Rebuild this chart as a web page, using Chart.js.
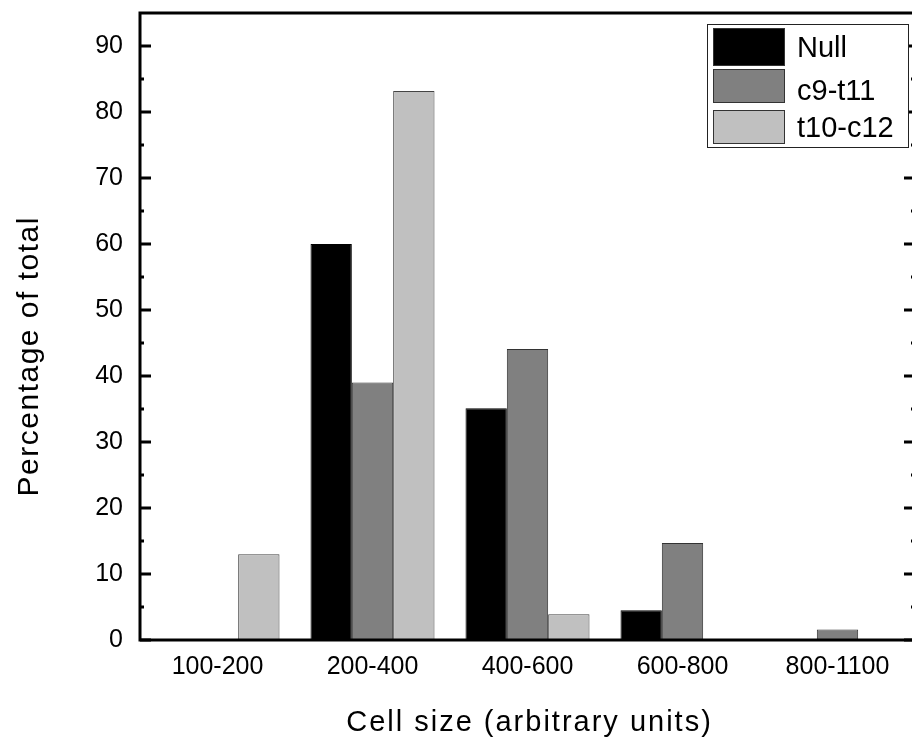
<!DOCTYPE html>
<html><head><meta charset="utf-8">
<script src="https://cdn.jsdelivr.net/npm/chart.js@4/dist/chart.umd.min.js"></script>
<style>
html,body{margin:0;padding:0;background:#fff;overflow:hidden}
#wrap{width:912px;height:740px;overflow:hidden;position:relative}
canvas{display:block}
</style>
</head><body>
<div id="wrap"><canvas id="c" width="920" height="740"></canvas></div>
<script>
const categories = ['100-200', '200-400', '400-600', '600-800', '800-1100'];
const seriesNames = ['Null', 'c9-t11', 't10-c12'];
const nullValues = [0, 60, 35.1, 4.5, 0];
const c9t11Values = [0, 39, 44.1, 14.7, 1.6];
const t10c12Values = [13, 83.2, 3.9, 0, 0];
const yMajorTicks = [0, 10, 20, 30, 40, 50, 60, 70, 80, 90];
const yMinorTicks = [5, 15, 25, 35, 45, 55, 65, 75, 85];
const xTitle = 'Cell size (arbitrary units)';
const yTitle = 'Percentage of total';

const FONT = '"Liberation Sans", Arial, Helvetica, sans-serif';
const seriesColors = ['#000000', '#808080', '#c0c0c0'];
const seriesBorders = ['#000000', '#333333', '#444444'];

function drawSpaced(ctx, text, spacing) {
  ctx.letterSpacing = spacing + 'px';
  const w = ctx.measureText(text).width - spacing;
  ctx.textAlign = 'left';
  ctx.fillText(text, -w / 2, 0);
  ctx.letterSpacing = '0px';
}

const framePlugin = {
  id: 'frame',
  afterDatasetsDraw(chart) {
    const { ctx, chartArea: a } = chart;
    const y = chart.scales.y;
    ctx.save();
    ctx.strokeStyle = '#000';
    ctx.lineWidth = 3;
    ctx.strokeRect(a.left, a.top, a.right - a.left, a.bottom - a.top);
    ctx.beginPath();
    yMajorTicks.forEach(v => {
      const p = y.getPixelForValue(v);
      ctx.moveTo(a.left, p); ctx.lineTo(a.left + 11, p);
      ctx.moveTo(a.right, p); ctx.lineTo(a.right - 11, p);
    });
    yMinorTicks.forEach(v => {
      const p = y.getPixelForValue(v);
      ctx.moveTo(a.left, p); ctx.lineTo(a.left + 4, p);
      ctx.moveTo(a.right, p); ctx.lineTo(a.right - 4, p);
    });
    ctx.stroke();
    ctx.restore();
  },
  afterDraw(chart) {
    const { ctx, chartArea: a } = chart;
    ctx.save();
    ctx.fillStyle = '#000';
    ctx.textBaseline = 'alphabetic';
    // x title
    ctx.font = '29px ' + FONT;
    ctx.save();
    ctx.translate((a.left + a.right) / 2 + 1, 731);
    drawSpaced(ctx, xTitle, 2);
    ctx.restore();
    // y title
    ctx.font = '30px ' + FONT;
    ctx.save();
    ctx.translate(38, 357);
    ctx.rotate(-Math.PI / 2);
    drawSpaced(ctx, yTitle, 1.5);
    ctx.restore();
    // legend
    const lx = a.right - 208, ly = a.top + 11;
    ctx.fillStyle = '#fff';
    ctx.fillRect(lx, ly, 202, 124);
    ctx.strokeStyle = '#222';
    ctx.lineWidth = 1;
    ctx.strokeRect(lx + 0.5, ly + 0.5, 201, 123);
    const rows = [{ t: 4, h: 38, b: 33 }, { t: 45, h: 34, b: 76 }, { t: 86, h: 34, b: 113 }];
    ctx.font = '29px ' + FONT;
    chart.data.datasets.forEach((ds, i) => {
      const r = rows[i];
      ctx.fillStyle = ds.backgroundColor;
      ctx.fillRect(lx + 6, ly + r.t, 72, r.h);
      ctx.strokeStyle = '#333';
      ctx.strokeRect(lx + 6.5, ly + r.t + 0.5, 71, r.h - 1);
      ctx.fillStyle = '#000';
      ctx.textAlign = 'left';
      ctx.fillText(ds.label, lx + 90, ly + r.b);
    });
    ctx.restore();
  }
};

const valueSets = [nullValues, c9t11Values, t10c12Values];

new Chart(document.getElementById('c'), {
  type: 'bar',
  data: {
    labels: categories,
    datasets: seriesNames.map((name, i) => ({
      label: name,
      data: valueSets[i],
      backgroundColor: seriesColors[i],
      borderColor: seriesBorders[i],
      borderWidth: 1,
      categoryPercentage: 0.8,
      barPercentage: 1.0
    }))
  },
  options: {
    responsive: false,
    animation: false,
    devicePixelRatio: 1,
    layout: { padding: { left: 0, top: 13, right: 5, bottom: 0 } },
    plugins: { legend: { display: false }, tooltip: { enabled: false } },
    scales: {
      x: {
        grid: { display: false, drawTicks: false },
        border: { display: false },
        ticks: { color: '#000', font: { family: FONT, size: 25, lineHeight: 1.2 }, padding: 12, maxRotation: 0, autoSkip: false },
        afterFit(s) { s.height = 100; s.paddingLeft = 0; s.paddingRight = 0; }
      },
      y: {
        min: 0, max: 95,
        grid: { display: false, drawTicks: false },
        border: { display: false },
        ticks: { stepSize: 10, includeBounds: false, color: '#000', font: { family: FONT, size: 25, lineHeight: 1.2 }, padding: 17 },
        afterFit(s) { s.width = 140; s.paddingTop = 0; s.paddingBottom = 0; }
      }
    }
  },
  plugins: [framePlugin]
});
</script>
</body></html>
